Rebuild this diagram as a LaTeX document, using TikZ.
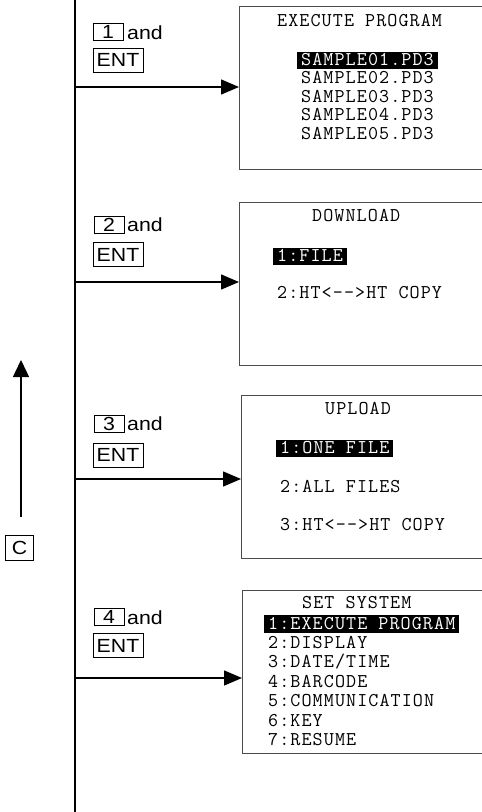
\documentclass[tikz,border=0pt]{standalone}
\usepackage{fontspec}
\newfontfamily\keyfont[FakeStretch=1.12]{Liberation Sans}
\newfontfamily\lcdfont[LetterSpace=5.6]{Latin Modern Mono}
\usetikzlibrary{arrows.meta}
\begin{document}
\begin{tikzpicture}[x=1pt,y=-1pt,
  screen/.style={draw=black!70, line width=1pt, anchor=north west, inner sep=0pt,
                 minimum width=262pt, minimum height=163pt},
  lcd/.style={font=\lcdfont\fontsize{19.5}{20}\selectfont, anchor=base west, inner sep=0pt,
              text height=12pt, text depth=3pt},
  hl/.style={lcd, fill=black, text=white, inner xsep=4pt, text height=13pt, text depth=3.5pt},
  keybox/.style={draw, line width=0.8pt, inner sep=0pt, font=\keyfont\fontsize{19}{20}\selectfont},
  digitbox/.style={keybox, minimum width=30pt, minimum height=17pt},
  entbox/.style={keybox, minimum width=50pt, minimum height=24pt},
  andtext/.style={font=\keyfont\fontsize{19}{20}\selectfont, anchor=base west, inner sep=0pt},
  flow/.style={line width=1.4pt, -{Triangle[length=18pt,width=15pt]}}
]
\useasboundingbox (0,0) rectangle (482,812);
\clip (0,0) rectangle (482,812);

% main vertical line
\coordinate (vtop) at (75,0);
\coordinate (vbot) at (75,812);
\draw[line width=1.4pt] (vtop) -- (vbot);

% screens
\node[screen] (b1) at (239,6) {};
\node[screen] (b2) at (239,202) {};
\node[screen] (b3) at (241,395) {};
\node[screen] (b4) at (242,590) {};

% arrows
\coordinate (v1) at (75,87);
\coordinate (v2) at (75,282);
\coordinate (v3) at (75,479);
\coordinate (v4) at (75,678);
\draw[flow] (v1) -- (v1 -| b1.west);
\draw[flow] (v2) -- (v2 -| b2.west);
\draw[flow] (v3) -- (v3 -| b3.west);
\draw[flow] (v4) -- (v4 -| b4.west);

% keys
\node[digitbox] (k1) at (108,32) {1};
\node[andtext] (a1) at (127,39) {and};
\node[entbox] (e1) at (118,60) {ENT};
\node[digitbox] (k2) at (109,224.5) {2};
\node[andtext] (a2) at (127,231.5) {and};
\node[entbox] (e2) at (118,254.5) {ENT};
\node[digitbox] (k3) at (109,423.5) {3};
\node[andtext] (a3) at (127,430.5) {and};
\node[entbox] (e3) at (118,455) {ENT};
\node[digitbox] (k4) at (109,617) {4};
\node[andtext] (a4) at (127,624) {and};
\node[entbox] (e4) at (118,645.5) {ENT};

% C key and up arrow
\node[keybox, minimum width=28pt, minimum height=25pt] (ck) at (19.5,548) {C};
\coordinate (ub) at (21,517);
\coordinate (ut) at (21,360);
\draw[line width=1.4pt, -{Triangle[length=17pt,width=16pt]}] (ub) -- (ut);

% screen 1
\node[lcd] (t1) at (277,26) {EXECUTE PROGRAM};
\node[hl] (s1) at (297,65) {SAMPLE01.PD3};
\node[lcd] (s2) at (301,83.5) {SAMPLE02.PD3};
\node[lcd] (s3) at (301,102) {SAMPLE03.PD3};
\node[lcd] (s4) at (301,120.5) {SAMPLE04.PD3};
\node[lcd] (s5) at (301,139) {SAMPLE05.PD3};

% screen 2
\node[lcd] (t2) at (312,221) {DOWNLOAD};
\node[hl] (d1) at (273,261) {1:FILE};
\node[lcd] (d2) at (277,298) {2:HT<-{}->HT COPY};

% screen 3
\node[lcd] (t3) at (325,414) {UPLOAD};
\node[hl] (u1) at (276,453) {1:ONE FILE};
\node[lcd] (u2) at (280,492) {2:ALL FILES};
\node[lcd] (u3) at (280,530) {3:HT<-{}->HT COPY};

% screen 4
\node[lcd] (t4) at (302,608) {SET SYSTEM};
\node[hl, text height=14.5pt, text depth=4pt] (y1) at (264,629) {1:EXECUTE PROGRAM};
\node[lcd] (y2) at (268,648.4) {2:DISPLAY};
\node[lcd] (y3) at (268,667.8) {3:DATE/TIME};
\node[lcd] (y4) at (268,687.2) {4:BARCODE};
\node[lcd] (y5) at (268,706.6) {5:COMMUNICATION};
\node[lcd] (y6) at (268,726) {6:KEY};
\node[lcd] (y7) at (268,745.4) {7:RESUME};
\end{tikzpicture}
\end{document}
